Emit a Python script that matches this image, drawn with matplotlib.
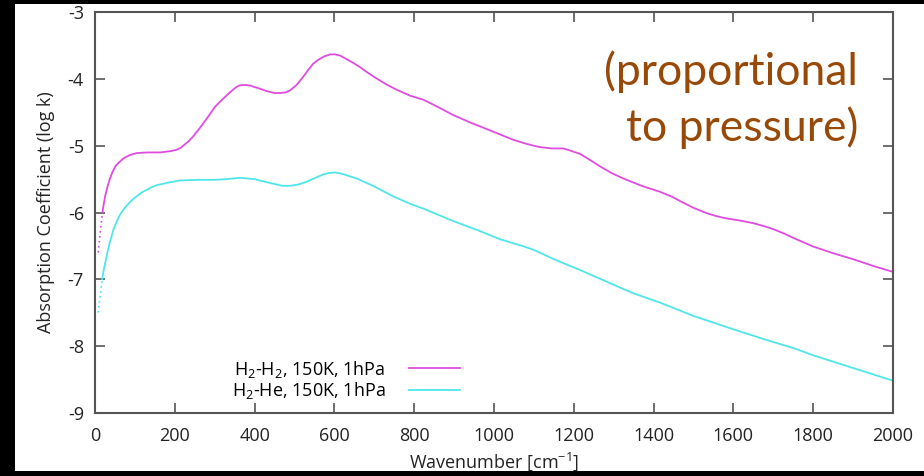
import matplotlib
matplotlib.use("Agg")
import matplotlib.pyplot as plt
from matplotlib.patches import Rectangle

# ---- data ----
h2h2_dot_x = [8, 13, 19]
h2h2_dot_y = [-6.60, -6.30, -5.99]
h2h2_x = [19, 22, 26, 31, 37, 44, 52, 60, 71, 87, 104, 130, 163, 190, 205, 215, 225, 235,
          246, 262, 278, 290, 300, 315, 329, 340, 350, 360, 369, 380, 390, 400, 411, 430,
          450, 464, 478, 489, 505, 520, 535, 547, 560, 575, 590, 601, 615, 630, 645, 664,
          680, 700, 730, 756, 790, 823, 860, 898, 940, 982, 1048, 1075, 1100, 1115, 1130,
          1145, 1160, 1174, 1185, 1195, 1205, 1215, 1240, 1266, 1295, 1324, 1370, 1416,
          1445, 1470, 1500, 1533, 1555, 1575, 1595, 1616, 1650, 1680, 1700, 1725, 1750,
          1800, 1850, 1900, 1950, 2000]
h2h2_y = [-5.99, -5.87, -5.74, -5.62, -5.50, -5.39, -5.30, -5.25, -5.19, -5.14, -5.11,
          -5.10, -5.10, -5.08, -5.06, -5.03, -4.98, -4.93, -4.86, -4.74, -4.61, -4.51,
          -4.42, -4.33, -4.25, -4.19, -4.14, -4.10, -4.09, -4.09, -4.10, -4.12, -4.14,
          -4.18, -4.21, -4.21, -4.20, -4.17, -4.09, -3.98, -3.86, -3.77, -3.71, -3.66,
          -3.63, -3.63, -3.65, -3.70, -3.75, -3.82, -3.89, -3.97, -4.08, -4.16, -4.25,
          -4.31, -4.42, -4.54, -4.65, -4.75, -4.91, -4.96, -5.00, -5.02, -5.03, -5.04,
          -5.04, -5.04, -5.06, -5.08, -5.10, -5.12, -5.21, -5.31, -5.41, -5.49, -5.60,
          -5.69, -5.76, -5.84, -5.93, -6.01, -6.05, -6.08, -6.10, -6.12, -6.16, -6.21,
          -6.25, -6.31, -6.38, -6.51, -6.61, -6.70, -6.80, -6.89]

h2he_dot_x = [8, 13, 18]
h2he_dot_y = [-7.50, -7.25, -7.00]
h2he_x = [18, 21, 25, 29, 33, 37, 42, 46, 52, 58, 64, 71, 79, 87, 95, 104, 117, 130, 142,
          155, 170, 185, 213, 263, 300, 330, 363, 400, 420, 440, 455, 470, 489, 510, 530,
          545, 560, 572, 585, 601, 612, 625, 640, 656, 700, 748, 790, 831, 890, 957, 1015,
          1070, 1100, 1150, 1215, 1280, 1349, 1416, 1500, 1600, 1683, 1750, 1800, 1900,
          2000]
h2he_y = [-7.00, -6.89, -6.77, -6.66, -6.55, -6.45, -6.35, -6.26, -6.17, -6.09, -6.02,
          -5.96, -5.90, -5.85, -5.80, -5.76, -5.70, -5.66, -5.62, -5.59, -5.57, -5.55,
          -5.52, -5.51, -5.51, -5.50, -5.48, -5.50, -5.53, -5.56, -5.58, -5.60, -5.60,
          -5.58, -5.54, -5.50, -5.46, -5.43, -5.41, -5.40, -5.41, -5.43, -5.46, -5.49,
          -5.61, -5.76, -5.87, -5.96, -6.11, -6.26, -6.40, -6.50, -6.56, -6.70, -6.86,
          -7.03, -7.21, -7.35, -7.55, -7.75, -7.91, -8.03, -8.14, -8.33, -8.52]

series_labels = [r"H$\mathregular{_2}$-H$\mathregular{_2}$, 150K, 1hPa",
                 r"H$\mathregular{_2}$-He, 150K, 1hPa"]
x_ticks = [0, 200, 400, 600, 800, 1000, 1200, 1400, 1600, 1800, 2000]
y_ticks = [-9, -8, -7, -6, -5, -4, -3]

MAG = "#e04ce0"
CYN = "#4fe6ea"
FONT = "Open Sans"
AXC = "#555555"

plt.rcParams["font.family"] = [FONT, "DejaVu Sans"]
plt.rcParams["mathtext.fontset"] = "custom"
plt.rcParams["mathtext.rm"] = FONT
plt.rcParams["axes.unicode_minus"] = False

fig = plt.figure(figsize=(9.24, 4.76), dpi=100)
ax = fig.add_axes([95 / 924, 1 - 412.7 / 476, (893 - 95) / 924, (412.7 - 12.3) / 476])

l1, = ax.plot(h2h2_x, h2h2_y, color=MAG, lw=1.3, label=series_labels[0])
ax.plot(h2h2_dot_x, h2h2_dot_y, color=MAG, lw=1.2, ls=(0, (1, 2)))
l2, = ax.plot(h2he_x, h2he_y, color=CYN, lw=1.3, label=series_labels[1])
ax.plot(h2he_dot_x, h2he_dot_y, color=CYN, lw=1.2, ls=(0, (1, 2)))

ax.set_xlim(0, 2000)
ax.set_ylim(-9, -3)
ax.set_xticks(x_ticks)
ax.set_yticks(y_ticks)
ax.tick_params(direction="in", length=7, width=1.2, colors=AXC, labelcolor="#222222",
               labelsize=13, top=True, right=True, pad=8)
ax.tick_params(axis="x", pad=10)
for sp in ax.spines.values():
    sp.set_color(AXC)
    sp.set_linewidth(1.5)

ax.set_ylabel("Absorption Coefficient (log k)", fontsize=13, color="#222222", labelpad=9)
ax.set_xlabel(r"Wavenumber [cm$\mathregular{^{-1}}$]", fontsize=13, color="#222222",
              labelpad=4)

ax.legend(handles=[l1, l2], loc="lower right", bbox_to_anchor=(0.466, 0.01),
          frameon=False, markerfirst=False, fontsize=13, handlelength=2.8,
          handletextpad=1.3, labelspacing=0.05, borderaxespad=0)

ax.text(0.956, 0.905, "(proportional\nto pressure)", transform=ax.transAxes,
        ha="right", va="top", fontsize=32, color="#984807", linespacing=1.38,
        family=["Lato", "DejaVu Sans"])

# black frame of the screenshot
for (x0, y0, w, h) in [(0, 0, 15 / 924, 1), (0, 1 - 4 / 476, 1, 4 / 476), (0, 0, 1, 5 / 476)]:
    fig.add_artist(Rectangle((x0, y0), w, h, transform=fig.transFigure,
                             facecolor="black", edgecolor="none", zorder=20))

fig.savefig("out.png", dpi=100)
